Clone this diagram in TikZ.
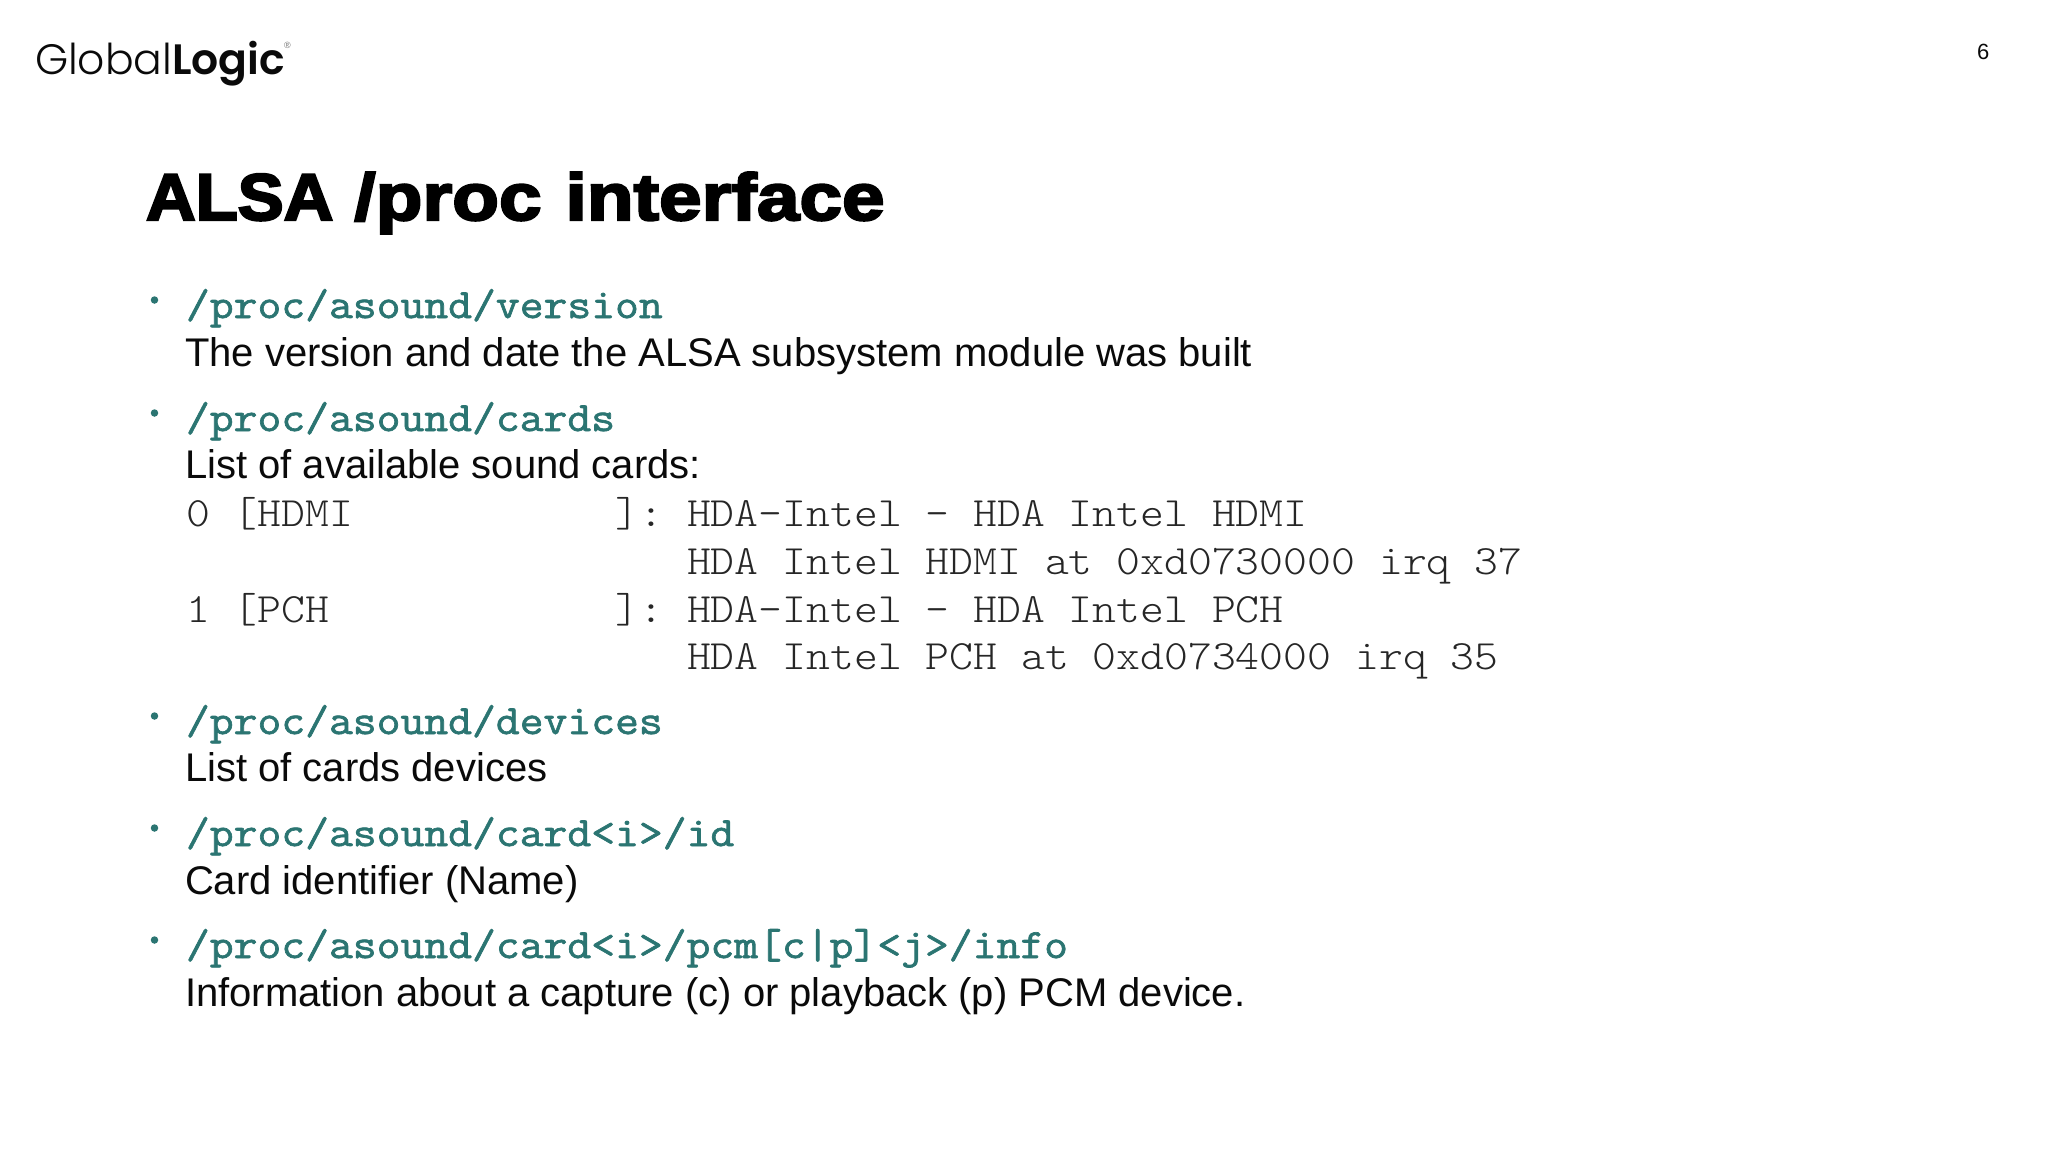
\documentclass[tikz,border=0pt]{standalone}
\usepackage{fontspec}
\setmainfont{Liberation Sans}
\newfontfamily\titlefontA[FakeBold=3.5,FakeStretch=1.043]{Liberation Sans Bold}
\newfontfamily\titlefontB[FakeBold=3.5,FakeStretch=1.16]{Liberation Sans Bold}
\newfontfamily\logoL{Poppins Light}
\newfontfamily\logoB{Poppins SemiBold}
\newfontfamily\monoR[FakeStretch=1.09]{Latin Modern Mono Light}
\newfontfamily\monoB[FakeStretch=1.11,FakeBold=1.6]{Latin Modern Mono}
\definecolor{teal1}{HTML}{2B7572}
\definecolor{ink}{HTML}{0A0A0A}
\tikzset{
 x=1pt,y=-1pt,
 txt/.style={anchor=base west,inner sep=0pt,outer sep=0pt,text=ink},
 hd/.style={txt,text=teal1,font=\monoB\fontsize{41.7}{48}\selectfont},
 body/.style={txt,font=\fontsize{40}{46}\selectfont},
 code/.style={txt,text=black!85,font=\monoR\fontsize{41.7}{48}\selectfont},
 bul/.style={circle,fill=teal1,inner sep=0pt,minimum size=7.5pt}
}
\begin{document}
\begin{tikzpicture}
\useasboundingbox (0,0) rectangle (2048,1152);
\fill[white] (0,0) rectangle (2048,1152);
\node[txt,font=\fontsize{42.5}{48}\selectfont] (logo) at (35,74.5) {{\logoL Global}{\logoB Logic}};
\node[txt,text=black!55,font=\fontsize{9}{9}\selectfont] (reg) at (284,48) {®};
\node[txt,font=\fontsize{22}{24}\selectfont] (page) at (1977,59) {6};
\node[txt,text=black,font=\fontsize{66}{72}\selectfont] (title) at (146,220) {{\titlefontA ALSA}\hspace{21pt}{\titlefontB /proc}\hspace{24pt}{\titlefontB interface}};

\node[bul] (b1) at (154.5,300) {};
\node[hd] (h1) at (186,318) {/proc/asound/version};
\node[body] (t1) at (185,366.5) {The version and date the ALSA subsystem module was built};

\node[bul] (b2) at (154.5,413) {};
\node[hd] (h2) at (186,431) {/proc/asound/cards};
\node[body] (t2) at (185,478.5) {List of available sound cards:};
\node[code] (c1) at (186,526) {0 [HDMI~~~~~~~~~~~]: HDA-Intel - HDA Intel HDMI};
\node[code] (c2) at (186,574) {~~~~~~~~~~~~~~~~~~~~~HDA Intel HDMI at 0xd0730000 irq 37};
\node[code] (c3) at (186,622) {1 [PCH~~~~~~~~~~~~]: HDA-Intel - HDA Intel PCH};
\node[code] (c4) at (186,669) {~~~~~~~~~~~~~~~~~~~~~HDA Intel PCH at 0xd0734000 irq 35};

\node[bul] (b3) at (154.5,716) {};
\node[hd] (h3) at (186,734) {/proc/asound/devices};
\node[body] (t3) at (185,781.5) {List of cards devices};

\node[bul] (b4) at (154.5,828) {};
\node[hd] (h4) at (186,846) {/proc/asound/card<i>/id};
\node[body] (t4) at (185,894) {Card identifier (Name)};

\node[bul] (b5) at (154.5,940) {};
\node[hd] (h5) at (186,958) {/proc/asound/card<i>/pcm[c|p]<j>/info};
\node[body] (t5) at (185,1006) {Information about a capture (c) or playback (p) PCM device.};
\end{tikzpicture}
\end{document}
